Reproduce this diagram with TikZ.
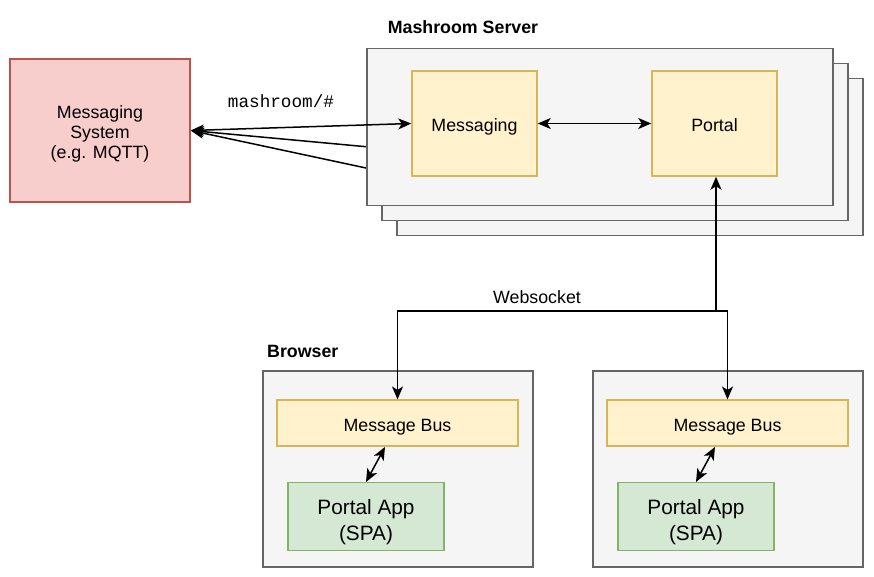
\documentclass[tikz,border=0pt]{standalone}
\usepackage{fontspec}
\setmainfont{Liberation Sans}
\setmonofont{Liberation Mono}
\usetikzlibrary{arrows.meta}
\definecolor{grayfill}{HTML}{F5F5F5}
\definecolor{graydraw}{HTML}{666666}
\definecolor{yelfill}{HTML}{FFF2CC}
\definecolor{yeldraw}{HTML}{D6B656}
\definecolor{grnfill}{HTML}{D5E8D4}
\definecolor{grndraw}{HTML}{82B366}
\definecolor{redfill}{HTML}{F8CECC}
\definecolor{reddraw}{HTML}{B85450}
\tikzset{
  box/.style={draw, line width=1.5pt, inner sep=0pt, align=center, font=\fontsize{17.8}{20}\selectfont},
  graybox/.style={box, fill=grayfill, draw=graydraw},
  yelbox/.style={box, fill=yelfill, draw=yeldraw, text height=16pt, text depth=0pt},
  grnbox/.style={box, fill=grnfill, draw=grndraw, font=\fontsize{20.8}{25.6}\selectfont, text height=47.2pt, text depth=0pt},
  redbox/.style={box, fill=redfill, draw=reddraw, text height=55.6pt, text depth=0pt},
  conn/.style={line width=1.5pt, black},
  lbl/.style={inner sep=0pt, font=\fontsize{17.8}{20.5}\selectfont},
  title/.style={inner sep=0pt, font=\fontsize{17.8}{20.5}\selectfont\bfseries},
  ah/.tip={Stealth[length=13pt,width=11pt,inset=3.5pt]}
}
\begin{document}
\begin{tikzpicture}[x=1pt,y=-1pt]
\useasboundingbox (0,0) rectangle (874,577);
% messaging system and the links hidden behind the server stack
\node[redbox, minimum width=180pt, minimum height=143pt] (ms) at (100,130.5) {Messaging\\System\\(e.g. MQTT)};
\coordinate (l2) at (380,148);
\coordinate (l3) at (380,171);
\draw[conn,-ah] (l2) -- (ms.east);
\draw[conn,-ah] (l3) -- (ms.east);
% server stack
\node[graybox, minimum width=466pt, minimum height=157pt] (srv3) at (630,157) {};
\node[graybox, minimum width=466pt, minimum height=157pt] (srv2) at (615,142) {};
\node[graybox, minimum width=466pt, minimum height=157pt] (srv1) at (600,127) {};
\node[title] (srvlbl) at (463,27) {Mashroom Server};
\node[yelbox, minimum width=125pt, minimum height=105pt] (msg) at (474.5,123.5) {Messaging};
\node[yelbox, minimum width=125pt, minimum height=105pt] (portal) at (714.5,123.5) {Portal};
\draw[conn,ah-ah] (ms.east) -- (msg.west);
\node[lbl, font=\fontsize{17.7}{20}\selectfont\ttfamily] (topic) at (281,101) {mashroom/\#};
\draw[conn,ah-ah] (msg.east) -- (portal.west);
% browsers
\node[title, anchor=west] (brlbl) at (267,351) {Browser};
\node[graybox, minimum width=270pt, minimum height=196pt] (br1) at (398,469) {};
\node[graybox, minimum width=270pt, minimum height=196pt] (br2) at (728,469) {};
\node[yelbox, minimum width=241pt, minimum height=46pt] (mb1) at (397.5,423.2) {Message Bus};
\node[yelbox, minimum width=241pt, minimum height=46pt] (mb2) at (727.5,423.2) {Message Bus};
\node[grnbox, minimum width=156pt, minimum height=68pt] (pa1) at (366,516.7) {Portal App\\(SPA)};
\node[grnbox, minimum width=156pt, minimum height=68pt] (pa2) at (696,516.7) {Portal App\\(SPA)};
\draw[conn,ah-ah] ([xshift=-12.5pt]mb1.south) -- (pa1.north);
\draw[conn,ah-ah] ([xshift=-12.5pt]mb2.south) -- (pa2.north);
% websocket
\coordinate (j) at (716,311);
\draw[conn,-ah] (j) -- (j |- portal.south);
\draw[conn,-ah] (j) -| (mb1.north);
\draw[conn,-ah] (j) -| (mb2.north);
\node[lbl] (ws) at (537,297) {Websocket};
\end{tikzpicture}
\end{document}
